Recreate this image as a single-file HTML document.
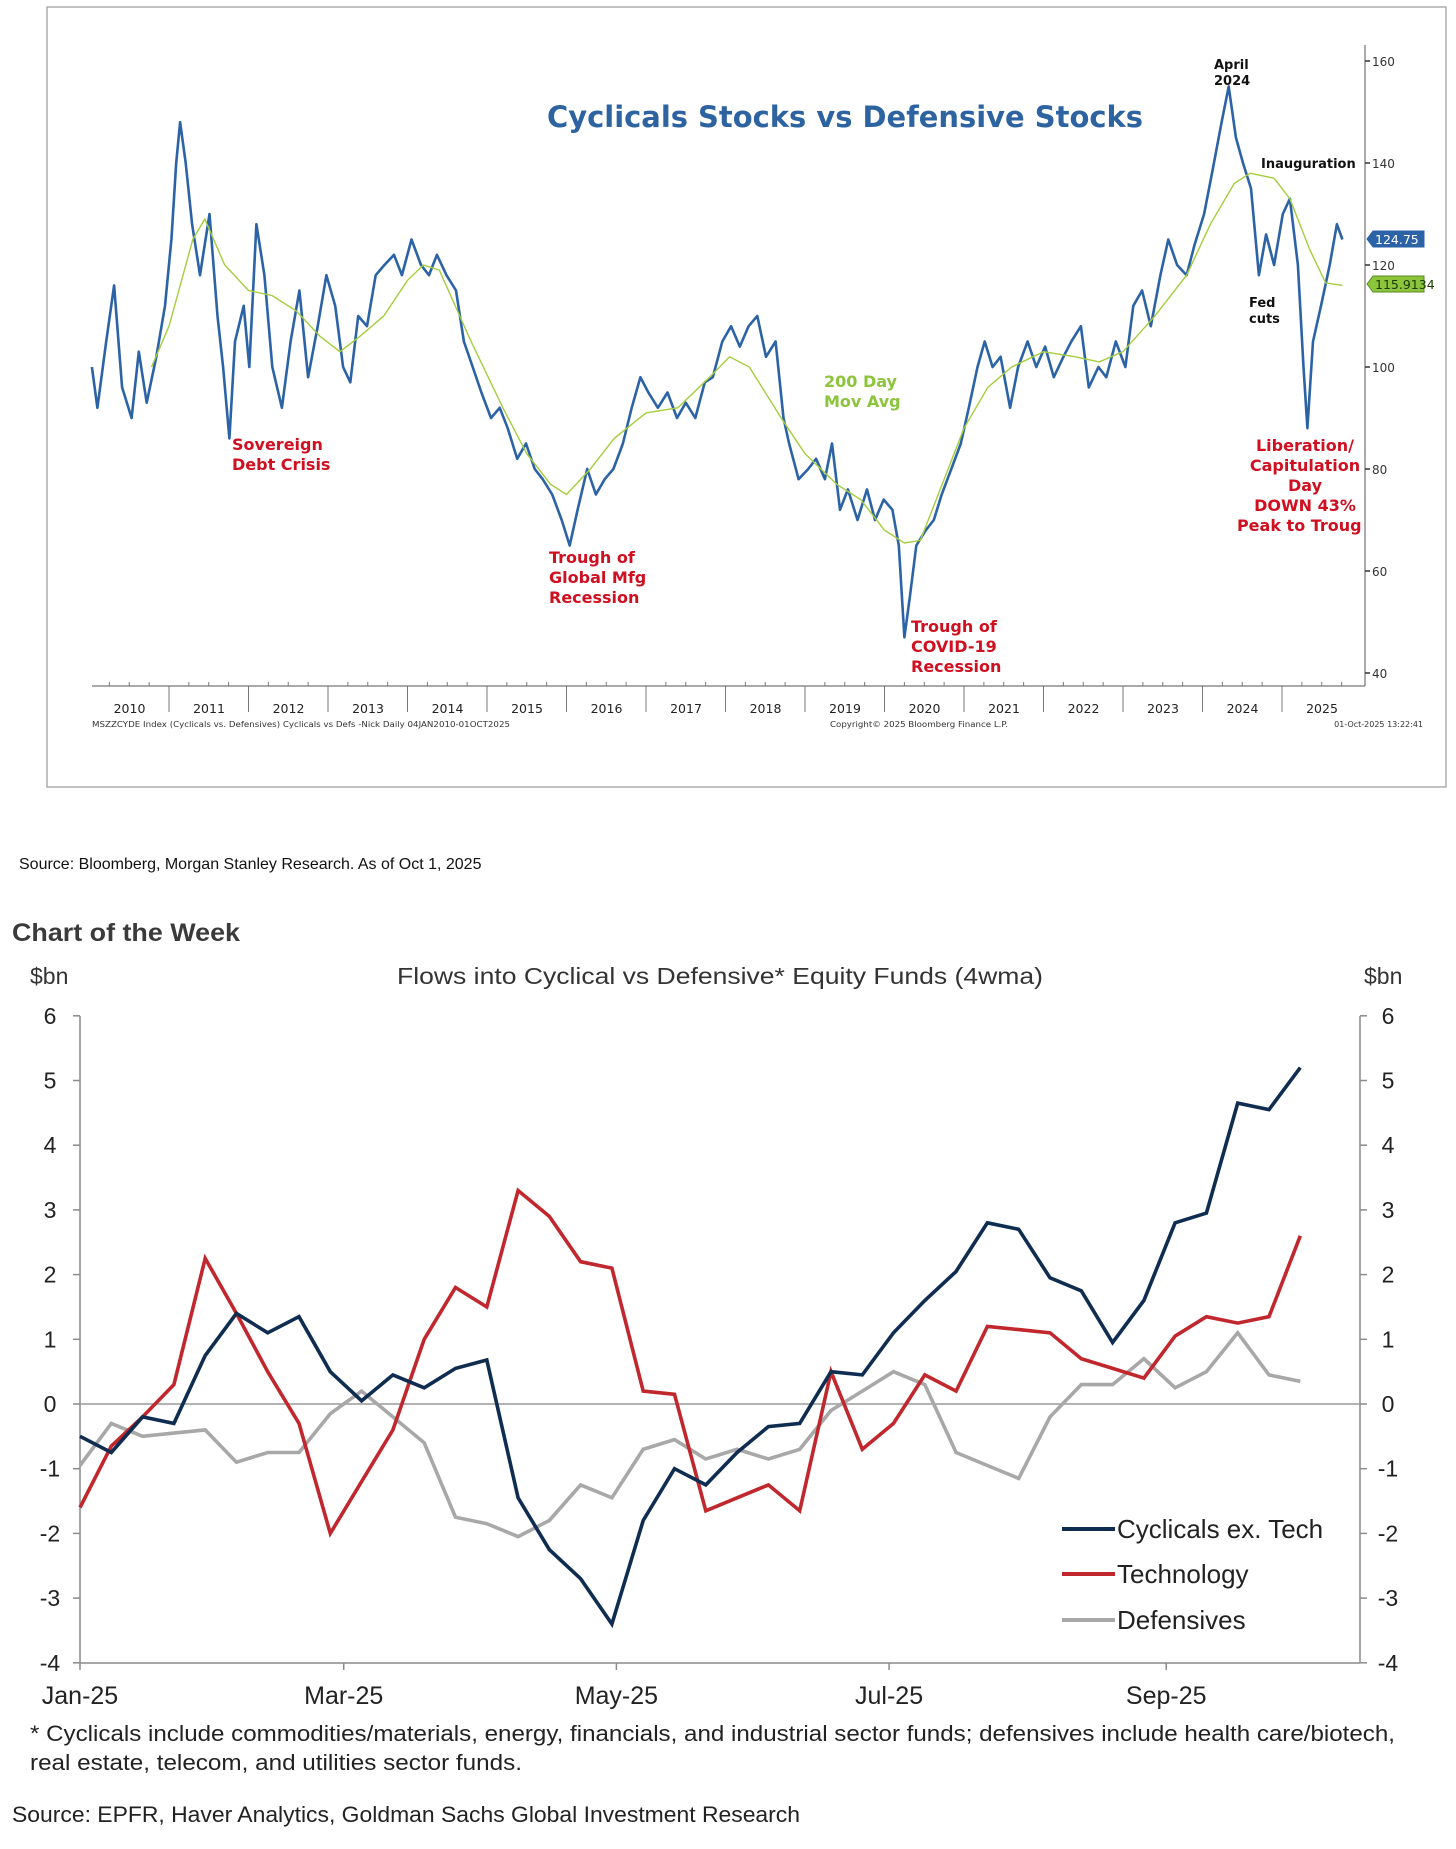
<!DOCTYPE html>
<html><head><meta charset="utf-8"><style>
html,body{margin:0;padding:0;background:#fff;}
svg{display:block;}
</style></head><body>
<svg id="chart" width="1456" height="1849" viewBox="0 0 1456 1849" xmlns="http://www.w3.org/2000/svg">
<rect x="0" y="0" width="1456" height="1849" fill="#fff"/>
<g id="top"></g>
<g id="bot"></g>
</svg>
<script>
// ---- Top chart data ----
const topDates=[2010.03,2010.10,2010.21,2010.31,2010.41,2010.53,2010.62,2010.72,2010.84,2010.95,2011.03,2011.09,2011.14,2011.21,2011.29,2011.39,2011.51,2011.61,2011.68,2011.76,2011.83,2011.94,2012.01,2012.10,2012.20,2012.30,2012.42,2012.53,2012.64,2012.75,2012.87,2012.98,2013.09,2013.19,2013.28,2013.38,2013.49,2013.60,2013.71,2013.83,2013.93,2014.05,2014.17,2014.27,2014.37,2014.49,2014.61,2014.71,2014.82,2014.93,2015.05,2015.16,2015.26,2015.38,2015.49,2015.60,2015.70,2015.82,2015.94,2016.04,2016.14,2016.26,2016.37,2016.48,2016.59,2016.71,2016.82,2016.93,2017.03,2017.15,2017.27,2017.39,2017.50,2017.62,2017.74,2017.84,2017.96,2018.07,2018.18,2018.29,2018.40,2018.51,2018.63,2018.73,2018.80,2018.92,2019.04,2019.14,2019.25,2019.34,2019.44,2019.54,2019.66,2019.78,2019.88,2019.99,2020.10,2020.18,2020.25,2020.32,2020.40,2020.52,2020.62,2020.72,2020.84,2020.96,2021.06,2021.17,2021.26,2021.36,2021.46,2021.58,2021.68,2021.80,2021.91,2022.02,2022.13,2022.25,2022.35,2022.47,2022.57,2022.69,2022.79,2022.91,2023.03,2023.13,2023.24,2023.35,2023.47,2023.57,2023.68,2023.80,2023.90,2024.02,2024.12,2024.24,2024.33,2024.42,2024.51,2024.61,2024.71,2024.80,2024.90,2025.01,2025.10,2025.20,2025.27,2025.32,2025.39,2025.49,2025.60,2025.69,2025.76];
const topValues=[100,92,105,116,96,90,103,93,102,112,125,140,148,140,128,118,130,110,100,86,105,112,100,128,118,100,92,105,115,98,108,118,112,100,97,110,108,118,120,122,118,125,120,118,122,118,115,105,100,95,90,92,88,82,85,80,78,75,70,65,72,80,75,78,80,85,92,98,95,92,95,90,93,90,97,98,105,108,104,108,110,102,105,90,85,78,80,82,78,85,72,76,70,76,70,74,72,65,47,55,65,68,70,75,80,85,92,100,105,100,102,92,100,105,100,104,98,102,105,108,96,100,98,105,100,112,115,108,118,125,120,118,124,130,138,148,155,145,140,135,118,126,120,130,133,120,100,88,105,112,120,128,125];
const maDates=[2010.78,2011.0,2011.3,2011.45,2011.7,2012.0,2012.3,2012.6,2012.9,2013.15,2013.4,2013.7,2014.0,2014.2,2014.4,2014.8,2015.2,2015.5,2015.8,2016.0,2016.3,2016.6,2017.0,2017.4,2017.8,2018.05,2018.3,2018.7,2019.0,2019.4,2019.7,2020.0,2020.25,2020.45,2020.7,2021.0,2021.3,2021.6,2022.0,2022.4,2022.7,2023.0,2023.4,2023.8,2024.1,2024.4,2024.6,2024.9,2025.1,2025.35,2025.55,2025.76];
const maValues=[100,108,125,129,120,115,114,111,106,103,106,110,117,120,119,105,92,83,77,75,80,86,91,92,98,102,100,90,83,77,74,68,65.5,66,76,88,96,100,103,102,101,103,110,118,128,136,138,137,133,123,116.5,116];
const topYTicks=[40,60,80,100,120,140,160];
const topYears=[2010,2011,2012,2013,2014,2015,2016,2017,2018,2019,2020,2021,2022,2023,2024,2025];

// ---- Bottom chart data ----
const weekIndex=[0,1,2,3,4,5,6,7,8,9,10,11,12,13,14,15,16,17,18,19,20,21,22,23,24,25,26,27,28,29,30,31,32,33,34,35,36,37,38,39];
const cyclicals=[-0.5,-0.75,-0.2,-0.3,0.75,1.4,1.1,1.35,0.5,0.05,0.45,0.25,0.55,0.68,-1.45,-2.25,-2.7,-3.4,-1.8,-1.0,-1.25,-0.75,-0.35,-0.3,0.5,0.45,1.1,1.6,2.05,2.8,2.7,1.95,1.75,0.95,1.6,2.8,2.95,4.65,4.55,5.2];
const technology=[-1.6,-0.65,-0.2,0.3,2.25,1.4,0.5,-0.3,-2.0,-1.2,-0.4,1.0,1.8,1.5,3.3,2.9,2.2,2.1,0.2,0.15,-1.65,-1.45,-1.25,-1.65,0.5,-0.7,-0.3,0.45,0.2,1.2,1.15,1.1,0.7,0.55,0.4,1.05,1.35,1.25,1.35,2.6];
const defensives=[-0.95,-0.3,-0.5,-0.45,-0.4,-0.9,-0.75,-0.75,-0.15,0.2,-0.2,-0.6,-1.75,-1.85,-2.05,-1.8,-1.25,-1.45,-0.7,-0.55,-0.85,-0.7,-0.85,-0.7,-0.1,0.2,0.5,0.3,-0.75,-0.95,-1.15,-0.2,0.3,0.3,0.7,0.25,0.5,1.1,0.45,0.35];
const botYTicks=[-4,-3,-2,-1,0,1,2,3,4,5,6];
const monthLabels=["Jan-25","Mar-25","May-25","Jul-25","Sep-25"];
const monthDays=[0,59,120,181,243];

const NS="http://www.w3.org/2000/svg";
function mk(parent,tag,attrs,text){const e=document.createElementNS(NS,tag);for(const k in attrs)e.setAttribute(k,attrs[k]);if(text!==undefined)e.textContent=text;parent.appendChild(e);return e;}

// ---- TOP ----
const T=document.getElementById('top');
const tx=t=>89.5+(t-2010)*79.5;
const ty=v=>367-(v-100)*5.1;
let e;
e=mk(T,'rect',{x:47,y:7,width:1399,height:780,fill:'none',stroke:'#9a9a9a','stroke-width':1.2});

e=mk(T,'line',{x1:92,y1:686,x2:1365,y2:686,stroke:'#555','stroke-width':1});

e=mk(T,'line',{x1:1365,y1:45,x2:1365,y2:686,stroke:'#555','stroke-width':1});

topYears.forEach((y,i)=>{
  const x0=tx(y);
  if(i>0){e=mk(T,'line',{x1:x0,y1:686,x2:x0,y2:712,stroke:'#777','stroke-width':1});
  }
  for(let q=1;q<4;q++){mk(T,'line',{x1:x0+q*79.5/4,y1:682,x2:x0+q*79.5/4,y2:686,stroke:'#777','stroke-width':1});}
  e=mk(T,'text',{x:x0+40,y:713,'font-family':'DejaVu Sans, sans-serif','font-size':12.5,fill:'#222','text-anchor':'middle'},String(y));
  
});
topYTicks.forEach(v=>{
  mk(T,'line',{x1:1365,y1:ty(v),x2:1370,y2:ty(v),stroke:'#333','stroke-width':1.5});
  e=mk(T,'text',{x:1372,y:ty(v)+5,'font-family':'DejaVu Sans, sans-serif','font-size':12,fill:'#333'},String(v));
  
});
let d='';topDates.forEach((t,i)=>{d+=(i?'L':'M')+tx(t).toFixed(1)+' '+ty(topValues[i]).toFixed(1);});
e=mk(T,'path',{d:d,fill:'none',stroke:'#2b63a6','stroke-width':2.6,'stroke-linejoin':'round'});

d='';maDates.forEach((t,i)=>{d+=(i?'L':'M')+tx(t).toFixed(1)+' '+ty(maValues[i]).toFixed(1);});
e=mk(T,'path',{d:d,fill:'none',stroke:'#a5cd3c','stroke-width':1.4});

function box(y,txt,fill,stroke,col,name){
  const g=mk(T,'g',{});
  mk(g,'path',{d:`M1367 ${y} L1373 ${y-8} L1424 ${y-8} L1424 ${y+8} L1373 ${y+8} Z`,fill:fill,stroke:stroke});
  mk(g,'text',{x:1375,y:y+5,'font-family':'DejaVu Sans, sans-serif','font-size':12.5,fill:col},txt);
}
box(239,'124.75','#2b63a6','#2b63a6','#fff','last-value-label');
box(284,'115.9134','#8cc43c','#5a8a20','#1a3a00','ma-value-label');
const B='DejaVu Sans, sans-serif';
e=mk(T,'text',{x:845,y:127,'font-family':B,'font-weight':'bold','font-size':29,fill:'#2d63a0','text-anchor':'middle',textLength:596,lengthAdjust:'spacingAndGlyphs'},'Cyclicals Stocks vs Defensive Stocks');

function ann(lines,x,y0,dy,col,size,anchor,name){
  const g=mk(T,'g',{});
  lines.forEach((l,i)=>mk(g,'text',{x:x,y:y0+i*dy,'font-family':B,'font-weight':'bold','font-size':size,fill:col,'text-anchor':anchor},l));
}
ann(['April','2024'],1214,69,16,'#111',13,'start','april-2024-label');
ann(['Inauguration'],1261,168,16,'#111',13,'start','inauguration-label');
ann(['Fed','cuts'],1249,307,16,'#111',13,'start','fed-cuts-label');
ann(['200 Day','Mov Avg'],824,387,20,'#8cc43c',16,'start','ma-label');
ann(['Sovereign','Debt Crisis'],232,450,20,'#d01020',16,'start','sovereign-debt-label');
ann(['Trough of','Global Mfg','Recession'],549,563,20,'#d01020',16,'start','mfg-recession-label');
ann(['Trough of','COVID-19','Recession'],911,632,20,'#d01020',16,'start','covid-label');
const cl=mk(T,'clipPath',{id:'cl'});mk(cl,'rect',{x:1200,y:420,width:163,height:120});
const lg=mk(T,'g',{'clip-path':'url(#cl)'});
['Liberation/','Capitulation','Day','DOWN 43%','Peak to Trough'].forEach((l,i)=>{
  e=mk(lg,'text',{x:1305,y:451+i*20,'font-family':B,'font-weight':'bold','font-size':16,fill:'#d01020','text-anchor':'middle'},l);
  
});
e=mk(T,'text',{x:92,y:727,'font-family':B,'font-size':8,fill:'#333',textLength:418,lengthAdjust:'spacingAndGlyphs'},'MSZZCYDE Index (Cyclicals vs. Defensives) Cyclicals vs Defs -Nick Daily 04JAN2010-01OCT2025');

e=mk(T,'text',{x:830,y:727,'font-family':B,'font-size':8,fill:'#333',textLength:178,lengthAdjust:'spacingAndGlyphs'},'Copyright© 2025 Bloomberg Finance L.P.');

e=mk(T,'text',{x:1423,y:727,'font-family':B,'font-size':8,fill:'#333','text-anchor':'end'},'01-Oct-2025 13:22:41');


// ---- BOTTOM ----
const G=document.getElementById('bot');
const A='Liberation Sans, Arial, sans-serif';
const bx=day=>80+day*4.47;
const by=v=>1404-v*64.7;
const Y0=1016, Y1=1663;
e=mk(G,'text',{x:19,y:869,'font-family':A,'font-size':16,fill:'#111'},'Source:  Bloomberg, Morgan Stanley Research. As of Oct 1, 2025');

e=mk(G,'text',{x:12,y:941,'font-family':A,'font-size':25,'font-weight':'bold',fill:'#3a3a3a',textLength:228,lengthAdjust:'spacingAndGlyphs'},'Chart of the Week');

e=mk(G,'text',{x:30,y:984,'font-family':A,'font-size':23,fill:'#333'},'$bn');

e=mk(G,'text',{x:1364,y:984,'font-family':A,'font-size':23,fill:'#333'},'$bn');

e=mk(G,'text',{x:397,y:984,'font-family':A,'font-size':23,fill:'#333',textLength:646,lengthAdjust:'spacingAndGlyphs'},'Flows into Cyclical vs Defensive*  Equity Funds (4wma)');

e=mk(G,'line',{x1:80,y1:Y0,x2:80,y2:Y1,stroke:'#8a8a8a','stroke-width':1.5});

e=mk(G,'line',{x1:1360,y1:Y0,x2:1360,y2:Y1,stroke:'#8a8a8a','stroke-width':1.5});

e=mk(G,'line',{x1:80,y1:Y1,x2:1360,y2:Y1,stroke:'#8a8a8a','stroke-width':1.5});

e=mk(G,'line',{x1:80,y1:by(0),x2:1360,y2:by(0),stroke:'#9a9a9a','stroke-width':1.5});

botYTicks.forEach(v=>{
  mk(G,'line',{x1:73,y1:by(v),x2:80,y2:by(v),stroke:'#8a8a8a','stroke-width':1.5});
  mk(G,'line',{x1:1360,y1:by(v),x2:1367,y2:by(v),stroke:'#8a8a8a','stroke-width':1.5});
  e=mk(G,'text',{x:50,y:by(v)+8,'font-family':A,'font-size':23,fill:'#222','text-anchor':'middle'},String(v));
  
  e=mk(G,'text',{x:1388,y:by(v)+8,'font-family':A,'font-size':23,fill:'#222','text-anchor':'middle'},String(v));
  
});
monthLabels.forEach((m,i)=>{
  const x=bx(monthDays[i]);
  mk(G,'line',{x1:x,y1:Y1,x2:x,y2:Y1+7,stroke:'#8a8a8a','stroke-width':1.5});
  e=mk(G,'text',{x:x,y:1704,'font-family':A,'font-size':25,fill:'#222','text-anchor':'middle'},m);
  
});
function series(vals,col,name){
  let p='';weekIndex.forEach((w,i)=>{p+=(i?'L':'M')+bx(w*7).toFixed(1)+' '+by(vals[i]).toFixed(1);});
  const s=mk(G,'path',{d:p,fill:'none',stroke:col,'stroke-width':3.6,'stroke-linejoin':'miter'});
  
}
series(defensives,'#a8a8a8','defensives-line');
series(technology,'#c0282e','technology-line');
series(cyclicals,'#0f2d50','cyclicals-line');
[['Cyclicals ex. Tech','#0f2d50',1529],['Technology','#c0282e',1574],['Defensives','#a8a8a8',1620]].forEach(l=>{
  const g=mk(G,'g',{});
  mk(g,'line',{x1:1062,y1:l[2],x2:1115,y2:l[2],stroke:l[1],'stroke-width':4});
  mk(g,'text',{x:1117,y:l[2]+9,'font-family':A,'font-size':26,fill:'#222'},l[0]);
});
e=mk(G,'text',{x:30,y:1741,'font-family':A,'font-size':22,fill:'#222',textLength:1365,lengthAdjust:'spacingAndGlyphs'},'* Cyclicals include commodities/materials, energy, financials, and industrial sector funds; defensives include health care/biotech,');

e=mk(G,'text',{x:30,y:1770,'font-family':A,'font-size':22,fill:'#222',textLength:492,lengthAdjust:'spacingAndGlyphs'},'real estate, telecom, and utilities sector funds.');

e=mk(G,'text',{x:12,y:1822,'font-family':A,'font-size':22,fill:'#222',textLength:788,lengthAdjust:'spacingAndGlyphs'},'Source: EPFR, Haver Analytics, Goldman Sachs Global Investment Research');

</script>
</body></html>
